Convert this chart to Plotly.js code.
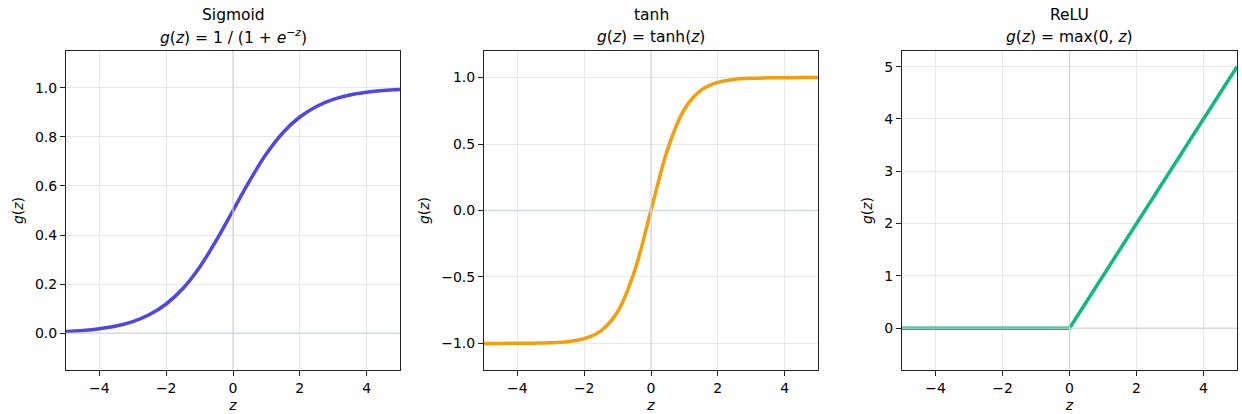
<!DOCTYPE html>
<html><head><meta charset="utf-8">
<script src="https://cdn.plot.ly/plotly-3.0.1.min.js"></script>
<style>html,body{margin:0;padding:0;background:#fff}#c{width:1242px;height:414px}</style>
</head><body><div id="c"></div>
<script>
const z = [-5,-4.5,-4,-3.5,-3,-2.5,-2,-1.5,-1,-0.5,0,0.5,1,1.5,2,2.5,3,3.5,4,4.5,5];
const sigmoidVals = [0.007,0.011,0.018,0.029,0.047,0.076,0.119,0.182,0.269,0.378,0.5,0.622,0.731,0.818,0.881,0.924,0.953,0.971,0.982,0.989,0.993];
const tanhVals = [-0.9999,-0.9998,-0.9993,-0.998,-0.995,-0.987,-0.964,-0.905,-0.762,-0.462,0,0.462,0.762,0.905,0.964,0.987,0.995,0.998,0.9993,0.9998,0.9999];
const reluZ = [-5,0,5];
const reluVals = [0,0,5];
const titles = ["Sigmoid","tanh","ReLU"];
const formulas = [
  "<i>g</i>(<i>z</i>) = 1 / (1 + <i>e</i><sup>−<i>z</i></sup>)",
  "<i>g</i>(<i>z</i>) = tanh(<i>z</i>)",
  "<i>g</i>(<i>z</i>) = max(0, <i>z</i>)"
];
const xTicks = [-4,-2,0,2,4];
const xTickText = ["−4","−2","0","2","4"];
const sigTicks = [0,0.2,0.4,0.6,0.8,1.0];
const sigTickText = ["0.0","0.2","0.4","0.6","0.8","1.0"];
const tanhTicks = [-1,-0.5,0,0.5,1];
const tanhTickText = ["−1.0","−0.5","0.0","0.5","1.0"];
const reluTicks = [0,1,2,3,4,5];
const reluTickText = ["0","1","2","3","4","5"];

const colors = ["#4f46e5","#f59e0b","#10b981"];
const W = 1242, H = 414;
const xd = [[66,400],[484,818],[902,1237]].map(p=>[p[0]/W,p[1]/W]);
const yd = [1-370/H, 1-51/H];
const font = {family:"DejaVu Sans, sans-serif", size:14, color:"#000"};
const tfont = {family:"DejaVu Sans, sans-serif", size:15.5, color:"#000"};

const traces = [
  {x:z, y:sigmoidVals, xaxis:"x", yaxis:"y", mode:"lines", line:{color:colors[0], width:3.5, shape:"spline"}},
  {x:z, y:tanhVals, xaxis:"x2", yaxis:"y2", mode:"lines", line:{color:colors[1], width:3.5, shape:"spline"}},
  {x:reluZ, y:reluVals, xaxis:"x3", yaxis:"y3", mode:"lines", line:{color:colors[2], width:3.5}}
];

function xa(i){
  return {domain:xd[i], range:[-5,5], anchor:i?("y"+(i+1)):"y", tickvals:xTicks, ticktext:xTickText,
    showgrid:true, gridcolor:"#e8e8e8", gridwidth:1, zeroline:false, showline:true, mirror:true,
    linecolor:"#222", linewidth:1, ticks:"outside", ticklen:5, tickcolor:"#222", tickfont:font,
    title:{text:"<i>z</i>", font:font, standoff:5}};
}
function ya(i, rng, tv, tt){
  return {domain:yd, range:rng, anchor:i?("x"+(i+1)):"x", tickvals:tv, ticktext:tt,
    showgrid:true, gridcolor:"#e8e8e8", gridwidth:1, zeroline:false, showline:true, mirror:true,
    linecolor:"#222", linewidth:1, ticks:"outside", ticklen:5, tickcolor:"#222", tickfont:font,
    title:{text:"<i>g</i>(<i>z</i>)", font:font, standoff:8}};
}
const shapes = [];
const axn = ["","2","3"];
for (let i=0;i<3;i++){
  shapes.push({type:"line", xref:"x"+axn[i], yref:"y"+axn[i]+" domain", x0:0, x1:0, y0:0, y1:1, line:{color:"#cbd5e1", width:1.3}, layer:"above", opacity:0.85});
  shapes.push({type:"line", xref:"x"+axn[i]+" domain", yref:"y"+axn[i], x0:0, x1:1, y0:0, y1:0, line:{color:"#cbd5e1", width:1.3}, layer:"above", opacity:0.85});
}
const annotations = [];
for (let i=0;i<3;i++){
  const cx = (xd[i][0]+xd[i][1])/2;
  annotations.push({xref:"paper", yref:"paper", x:cx, y:1-15/H, text:titles[i], showarrow:false, font:tfont, xanchor:"center", yanchor:"middle"});
  annotations.push({xref:"paper", yref:"paper", x:cx, y:1-37/H, text:formulas[i], showarrow:false, font:tfont, xanchor:"center", yanchor:"middle"});
}
const layout = {
  width:W, height:H, margin:{l:0,r:0,t:0,b:0}, showlegend:false,
  paper_bgcolor:"#fff", plot_bgcolor:"#fff", font:font,
  xaxis:xa(0), xaxis2:xa(1), xaxis3:xa(2),
  yaxis:ya(0,[-0.15,1.15],sigTicks,sigTickText),
  yaxis2:ya(1,[-1.2,1.2],tanhTicks,tanhTickText),
  yaxis3:ya(2,[-0.8,5.3],reluTicks,reluTickText),
  shapes:shapes, annotations:annotations
};
Plotly.newPlot("c", traces, layout, {displayModeBar:false, staticPlot:true});
</script></body></html>
